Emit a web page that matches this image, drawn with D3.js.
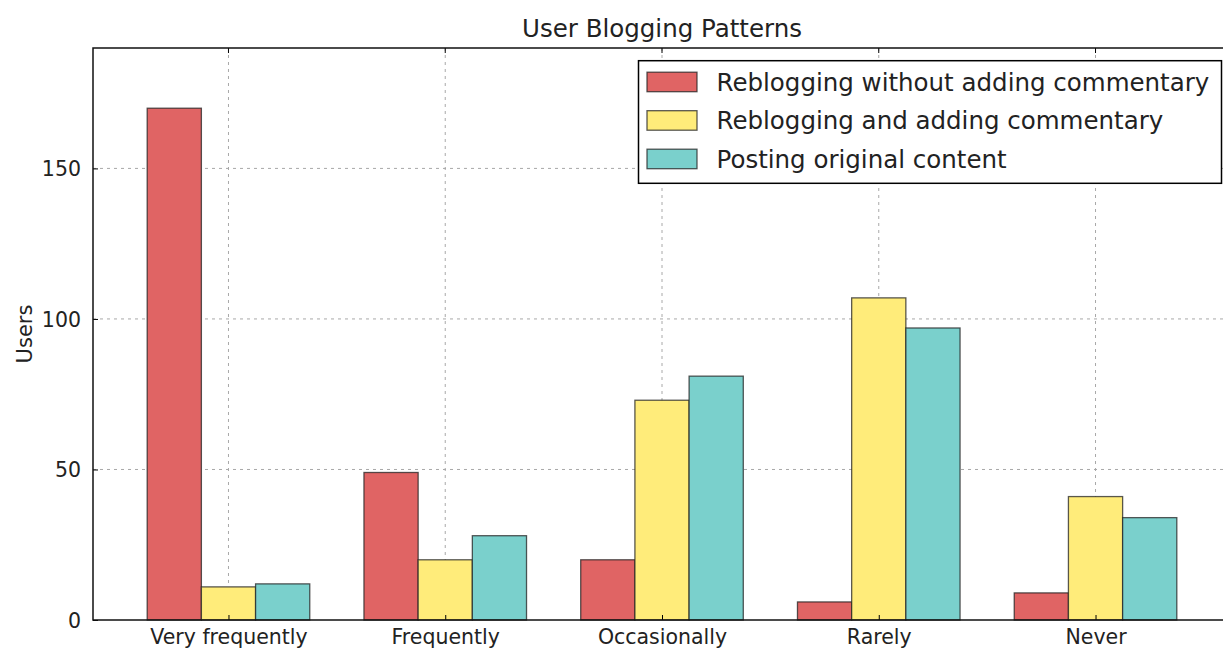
<!DOCTYPE html>
<html>
<head>
<meta charset="utf-8">
<script src="https://cdn.jsdelivr.net/npm/d3@7"></script>
<style>
  body { margin: 0; background: #fff; }
  svg { display: block; font-family: "DejaVu Sans", sans-serif; }
</style>
</head>
<body>
<div id="chart"></div>
<script>
// Data
const categories = ['Very frequently', 'Frequently', 'Occasionally', 'Rarely', 'Never'];
const seriesNames = ['Reblogging without adding commentary', 'Reblogging and adding commentary', 'Posting original content'];
const reblogNoComment = [170, 49, 20, 6, 9];
const reblogComment = [11, 20, 73, 107, 41];
const originalContent = [12, 28, 81, 97, 34];
const yTicks = [0, 50, 100, 150];

const seriesColors = ['#e06464', '#ffec7a', '#7ad0cc'];
const seriesValues = [reblogNoComment, reblogComment, originalContent];

const width = 1223, height = 648;
const margin = { left: 93, top: 48, right: -8, bottom: 28 };
const barW = 0.25;

const svg = d3.select('#chart').append('svg')
    .attr('width', width)
    .attr('height', height);

// x in "group index" units, like matplotlib's index + offset
const x = d3.scaleLinear()
    .domain([-0.25, 5.0])
    .range([margin.left, width - margin.right]);

const y = d3.scaleLinear()
    .domain([0, 190])
    .range([height - margin.bottom, margin.top]);

const plotTop = y(190), plotBottom = y(0);
const plotLeft = x(-0.25), plotRight = x(5.0);

// grid lines
const grid = svg.append('g').attr('class', 'grid')
    .attr('stroke', '#a8a8a8')
    .attr('stroke-width', 1)
    .attr('stroke-dasharray', '3,4');

grid.selectAll('.gx')
    .data(categories)
    .enter().append('line')
    .attr('x1', (d, i) => x(i + 1.5 * barW)).attr('x2', (d, i) => x(i + 1.5 * barW))
    .attr('y1', plotTop).attr('y2', plotBottom);

grid.selectAll('.gy')
    .data(yTicks.filter(t => t > 0))
    .enter().append('line')
    .attr('x1', plotLeft).attr('x2', plotRight)
    .attr('y1', d => y(d)).attr('y2', d => y(d));

// bars
const bars = [];
seriesValues.forEach((vals, s) => {
    vals.forEach((v, i) => bars.push({ s, i, v }));
});

svg.append('g').selectAll('rect')
    .data(bars)
    .enter().append('rect')
    .attr('x', d => x(d.i + d.s * barW))
    .attr('width', d => x(d.i + (d.s + 1) * barW) - x(d.i + d.s * barW))
    .attr('y', d => y(d.v))
    .attr('height', d => y(0) - y(d.v))
    .attr('fill', d => seriesColors[d.s])
    .attr('stroke', '#222')
    .attr('stroke-opacity', 0.75)
    .attr('stroke-width', 1.3);

// axes
const xAxis = d3.axisBottom(x)
    .tickValues(categories.map((c, i) => i + 1.5 * barW))
    .tickFormat((d, i) => categories[i])
    .tickSizeInner(-5)
    .tickSizeOuter(0)
    .tickPadding(12);

const yAxis = d3.axisLeft(y)
    .tickValues(yTicks)
    .tickSizeInner(-5)
    .tickSizeOuter(0)
    .tickPadding(12);

const gx = svg.append('g')
    .attr('transform', `translate(0,${plotBottom})`)
    .call(xAxis);

const gy = svg.append('g')
    .attr('transform', `translate(${plotLeft},0)`)
    .call(yAxis);

[gx, gy].forEach(g => {
    g.select('.domain').remove();
    g.selectAll('.tick line').attr('stroke', '#000').attr('stroke-width', 1);
    g.selectAll('.tick text')
        .attr('fill', '#222')
        .style('font-family', '"DejaVu Sans", sans-serif')
        .style('font-size', '20.5px');
});
gx.selectAll('.tick text').attr('dy', '0.6em');
gy.selectAll('.tick text').attr('dy', '0.35em');

// top-side ticks (classic matplotlib style)
svg.append('g').selectAll('line')
    .data(categories)
    .enter().append('line')
    .attr('x1', (d, i) => x(i + 1.5 * barW)).attr('x2', (d, i) => x(i + 1.5 * barW))
    .attr('y1', plotTop).attr('y2', plotTop + 5)
    .attr('stroke', '#000');

// frame
svg.append('rect')
    .attr('x', plotLeft).attr('y', plotTop)
    .attr('width', plotRight - plotLeft).attr('height', plotBottom - plotTop)
    .attr('fill', 'none')
    .attr('stroke', '#111')
    .attr('stroke-width', 1.5);

// title
svg.append('text')
    .attr('x', (plotLeft + plotRight) / 2)
    .attr('y', 37)
    .attr('text-anchor', 'middle')
    .attr('fill', '#222')
    .style('font-size', '24.5px')
    .text('User Blogging Patterns');

// y label
svg.append('text')
    .attr('transform', `translate(32,${(plotTop + plotBottom) / 2}) rotate(-90)`)
    .attr('text-anchor', 'middle')
    .attr('fill', '#222')
    .style('font-size', '21px')
    .text('Users');

// legend
const legend = svg.append('g').attr('transform', 'translate(638.5,60.7)');
legend.append('rect')
    .attr('width', 583).attr('height', 122.6)
    .attr('fill', '#fff')
    .attr('stroke', '#000')
    .attr('stroke-width', 1.5);

const items = legend.selectAll('.item')
    .data(seriesNames)
    .enter().append('g')
    .attr('transform', (d, i) => `translate(8.5,${11.5 + i * 38.5})`);

items.append('rect')
    .attr('width', 50).attr('height', 19.5)
    .attr('fill', (d, i) => seriesColors[i])
    .attr('stroke', '#222')
    .attr('stroke-opacity', 0.75)
    .attr('stroke-width', 1.3);

items.append('text')
    .attr('x', 69.5).attr('y', 10)
    .attr('dy', '0.35em')
    .attr('fill', '#222')
    .style('font-size', '24.5px')
    .text(d => d);
</script>
</body>
</html>
